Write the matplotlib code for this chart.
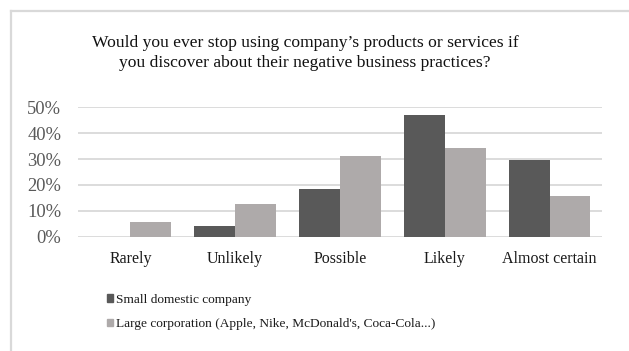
import matplotlib
matplotlib.use("Agg")
import matplotlib.pyplot as plt
from matplotlib.lines import Line2D
from matplotlib.patches import Patch
import numpy as np

categories = ["Rarely", "Unlikely", "Possible", "Likely", "Almost certain"]
small_domestic = [0.0, 4.3, 18.4, 46.9, 29.7]
large_corp = [5.6, 12.6, 31.2, 34.1, 15.6]
series_names = ["Small domestic company",
                "Large corporation (Apple, Nike, McDonald's, Coca-Cola...)"]
yticks = [0, 10, 20, 30, 40, 50]
title = ("Would you ever stop using company\u2019s products or services if\n"
         "you discover about their negative business practices?")

plt.rcParams["font.family"] = ["Liberation Serif", "DejaVu Serif"]

W, H = 629, 351
fig = plt.figure(figsize=(W / 100, H / 100), dpi=100)

dark = "#595959"
light = "#AEAAAA"
grid = "#D9D9D9"

ax = fig.add_axes([78 / W, 1 - 236.7 / H, (602 - 78) / W, (236.7 - 107.3) / H])
x = np.arange(len(categories))
bw = 0.39
ax.bar(x - bw / 2, small_domestic, width=bw, color=dark, zorder=3)
ax.bar(x + bw / 2, large_corp, width=bw, color=light, zorder=3)

ax.set_xlim(-0.5, len(categories) - 0.5)
ax.set_ylim(0, 50)
ax.set_yticks(yticks)
ax.set_yticklabels([f"{v}%" for v in yticks], color=dark, fontsize=13.3)
ax.set_xticks(x)
ax.set_xticklabels(categories, fontsize=11.5, color="#1a1a1a")
ax.tick_params(length=0, pad=12, axis="y")
ax.tick_params(length=0, pad=10, axis="x")
ax.yaxis.grid(True, color=grid, linewidth=1.3, zorder=0)
ax.set_axisbelow(True)
for s in ax.spines.values():
    s.set_visible(False)

fig.text(305 / W, 1 - 53 / H, title, ha="center", va="center",
         fontsize=12.6, linespacing=1.28, color="#111111")

handles = [Patch(color=dark), Patch(color=light)]
fig.legend(handles, series_names, loc="upper left",
           bbox_to_anchor=(100 / W, 1 - 287 / H), frameon=False,
           fontsize=9.6, handlelength=0.45, handleheight=0.45,
           handletextpad=0.25, labelspacing=0.95, borderpad=0,
           labelcolor="#1a1a1a")

# chart frame (top and left edges)
fig.add_artist(Line2D([10.5 / W, 1], [1 - 10.8 / H, 1 - 10.8 / H],
                      transform=fig.transFigure, color=grid, linewidth=1.6))
fig.add_artist(Line2D([11 / W, 11 / W], [1 - 10.8 / H, 0],
                      transform=fig.transFigure, color=grid, linewidth=1.6))

fig.savefig("out.png", dpi=100, facecolor="white")
